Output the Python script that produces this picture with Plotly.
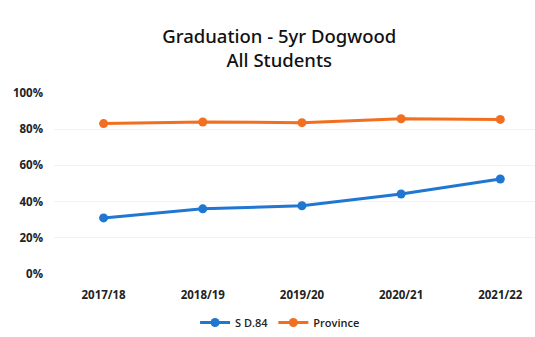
import plotly.graph_objects as go

years = ["2017/18", "2018/19", "2019/20", "2020/21", "2021/22"]
sd84 = [31, 36, 37.7, 44.2, 52.5]
province = [83.1, 84, 83.6, 85.8, 85.4]
y_ticks = [0, 20, 40, 60, 80, 100]
y_labels = ["0%", "20%", "40%", "60%", "80%", "100%"]

blue = "#1f77d2"
orange = "#f26f1f"

fig = go.Figure()
fig.add_trace(go.Scatter(x=years, y=sd84, name="S D.84", mode="lines+markers",
                         line=dict(color=blue, width=3), marker=dict(size=9, color=blue)))
fig.add_trace(go.Scatter(x=years, y=province, name="Province", mode="lines+markers",
                         line=dict(color=orange, width=3), marker=dict(size=9, color=orange)))

fig.update_layout(
    width=535, height=337,
    margin=dict(l=54, r=0, t=93, b=61),
    paper_bgcolor="white", plot_bgcolor="white",
    title=dict(text="Graduation - 5yr Dogwood<br>All Students",
               x=0.522, xanchor="center", xref="container",
               y=1 - 43/337, yanchor="top", yref="container",
               font=dict(family="Noto Sans", size=18.5, color="#111111", weight=500)),
    showlegend=True,
    legend=dict(orientation="h", x=0.47, xanchor="center", y=-0.268, yanchor="middle",
                font=dict(family="Open Sans", size=11, color="#222222", weight=600),
                itemwidth=30, tracegroupgap=0),
    xaxis=dict(range=[-0.5, 4.35], showgrid=False, showline=False, zeroline=False,
               ticks="", ticklabelstandoff=12,
               tickfont=dict(family="Open Sans", size=11.5, color="#222222", weight="bold")),
    yaxis=dict(range=[0, 100], tickvals=y_ticks, ticktext=y_labels, showgrid=True,
               gridcolor="#f2f2f2", zeroline=False, showline=False, ticks="",
               ticklabelstandoff=10,
               tickfont=dict(family="Open Sans", size=11.5, color="#222222", weight="bold")),
)

fig.write_html("out.html")
